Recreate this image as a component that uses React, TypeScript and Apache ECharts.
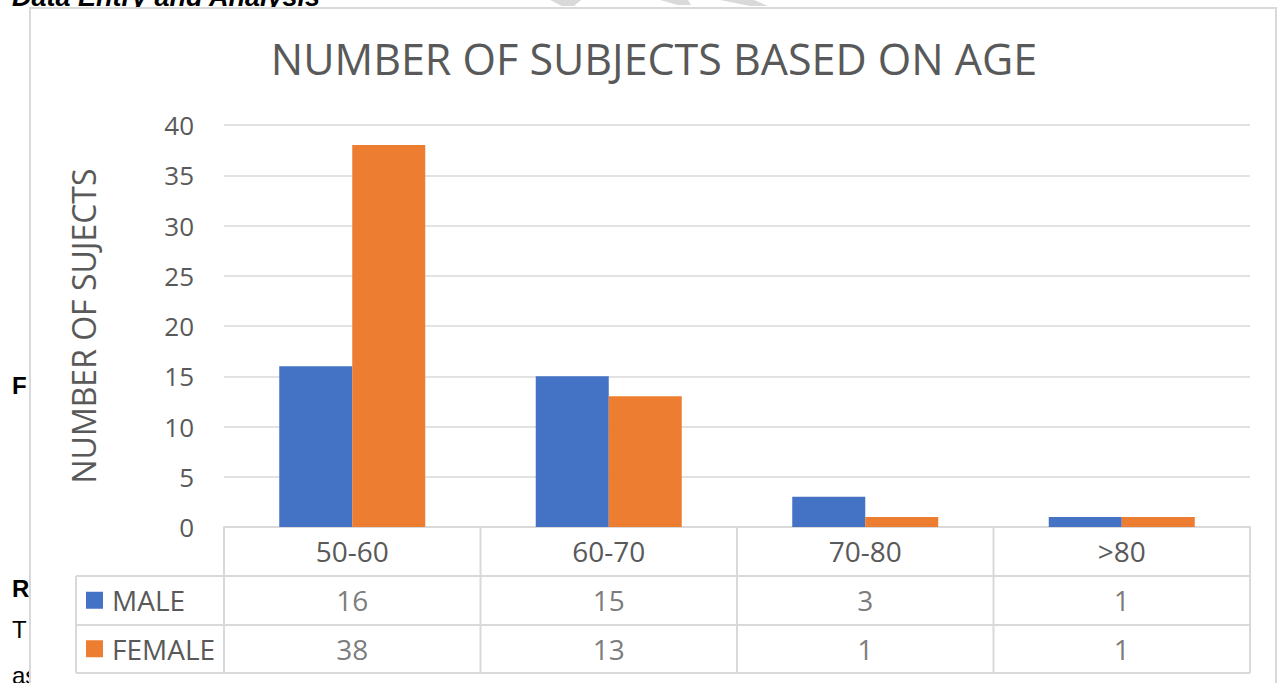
import React, { useEffect, useRef } from 'react';
import * as echarts from 'echarts';

// ---- data ----
const categories = ['50-60', '60-70', '70-80', '>80'];
const maleValues = [16, 15, 3, 1];
const femaleValues = [38, 13, 1, 1];
const seriesNames = ['MALE', 'FEMALE'];
const seriesColors = ['#4472c4', '#ed7d31'];
const yMin = 0;
const yMax = 40;
const yStep = 5;
const titleText = 'NUMBER OF SUBJECTS BASED ON AGE';
const yAxisName = 'NUMBER OF SUJECTS';

// ---- layout ----
const W = 1278;
const H = 683;
const PLOT_LEFT = 224;
const PLOT_RIGHT = 1250;
const PLOT_TOP = 125;
const PLOT_BOTTOM = 527;
const ROW_H = 49;
const TABLE_BOTTOM = 673;
const LEGEND_LEFT = 76;
const LINE = '#d9d9d9';
const TXT = '#595959';
const FONT = '"Open Sans", "Noto Sans", sans-serif';

export default function App() {
  const ref = useRef<HTMLDivElement>(null);

  useEffect(() => {
    if (!ref.current) return;
    const chart = echarts.init(ref.current, undefined, { renderer: 'svg' });

    const colW = (PLOT_RIGHT - PLOT_LEFT) / categories.length;
    const tableLines: any[] = [];
    const hl = (y: number, x1: number, x2: number) =>
      tableLines.push({ type: 'line', z: 50, silent: true, shape: { x1, y1: y, x2, y2: y }, style: { stroke: LINE, lineWidth: 2 } });
    const vl = (x: number, y1: number, y2: number) =>
      tableLines.push({ type: 'line', z: 50, silent: true, shape: { x1: x, y1, x2: x, y2 }, style: { stroke: LINE, lineWidth: 2 } });
    hl(PLOT_BOTTOM + ROW_H, LEGEND_LEFT, PLOT_RIGHT);
    hl(PLOT_BOTTOM + 2 * ROW_H, LEGEND_LEFT, PLOT_RIGHT);
    hl(TABLE_BOTTOM, LEGEND_LEFT, PLOT_RIGHT);
    vl(LEGEND_LEFT, PLOT_BOTTOM + ROW_H, TABLE_BOTTOM);
    for (let i = 0; i <= categories.length; i++) vl(PLOT_LEFT + i * colW, PLOT_BOTTOM, TABLE_BOTTOM);

    const docText = (text: string, x: number, y: number, bold: boolean, italic = false, size = 24) => ({
      type: 'text',
      z: -20,
      silent: true,
      x,
      y,
      style: {
        text,
        fill: '#000',
        font: `${italic ? 'italic ' : ''}${bold ? 'bold ' : ''}${size}px "Liberation Sans", Arial, sans-serif`,
        verticalAlign: 'middle',
        align: 'left',
      },
    });

    const option: any = {
      animation: false,
      backgroundColor: '#ffffff',
      title: {
        text: titleText,
        left: 654,
        top: 37,
        textAlign: 'center',
        padding: 0,
        textStyle: { fontFamily: FONT, fontSize: 43, fontWeight: 'normal', color: TXT, lineHeight: 43 },
      },
      graphic: [
        docText('Data Entry and Analysis', 12, -3, true, true, 27),
        docText('F', 12, 385, true),
        docText('R', 12, 588, true),
        docText('T', 12, 629, false),
        docText('as', 12, 675, false),
        {
          type: 'rect',
          z: -10,
          silent: true,
          shape: { x: 30, y: 8, width: 1246, height: 720 },
          style: { fill: '#ffffff', stroke: LINE, lineWidth: 2 },
        },
        { type: 'polygon', z: -5, silent: true, shape: { points: [[550, 0], [581, 0], [574, 6], [562, 6]] }, style: { fill: '#d9d9d9' } },
        { type: 'polygon', z: -5, silent: true, shape: { points: [[660, 0], [688, 0], [691, 5], [678, 5]] }, style: { fill: '#d9d9d9' } },
        { type: 'polygon', z: -5, silent: true, shape: { points: [[720, 0], [754, 0], [768, 6], [750, 6]] }, style: { fill: '#d9d9d9' } },
        ...tableLines,
      ],
      grid: [
        { left: PLOT_LEFT, top: PLOT_TOP, width: PLOT_RIGHT - PLOT_LEFT, height: PLOT_BOTTOM - PLOT_TOP, containLabel: false },
        { left: PLOT_LEFT, top: PLOT_BOTTOM + ROW_H, width: PLOT_RIGHT - PLOT_LEFT, height: TABLE_BOTTOM - PLOT_BOTTOM - ROW_H, containLabel: false },
      ],
      xAxis: [
        {
          type: 'category',
          gridIndex: 0,
          data: categories,
          axisLine: { show: true, lineStyle: { color: LINE, width: 2 } },
          axisTick: { show: false },
          axisLabel: { color: TXT, fontFamily: FONT, fontSize: 28, margin: 24, verticalAlign: 'middle', interval: 0 },
          splitLine: { show: false },
        },
        {
          type: 'category',
          gridIndex: 1,
          data: categories,
          axisLine: { show: false },
          axisTick: { show: false },
          axisLabel: { show: false },
          splitLine: { show: false },
        },
      ],
      yAxis: [
        {
          type: 'value',
          gridIndex: 0,
          min: yMin,
          max: yMax,
          interval: yStep,
          name: yAxisName,
          nameLocation: 'middle',
          nameRotate: 90,
          nameGap: 125,
          nameTextStyle: { color: TXT, fontFamily: FONT, fontSize: 32 },
          axisLine: { show: false },
          axisTick: { show: false },
          axisLabel: { color: TXT, fontFamily: FONT, fontSize: 26, margin: 30 },
          splitLine: { show: true, lineStyle: { color: LINE, width: 1.5 } },
        },
        {
          type: 'category',
          gridIndex: 1,
          data: seriesNames,
          inverse: true,
          axisLine: { show: false },
          axisTick: { show: false },
          splitLine: { show: false },
          axisLabel: {
            align: 'left',
            margin: PLOT_LEFT - 86,
            color: TXT,
            fontFamily: FONT,
            fontSize: 28,
            formatter: (v: string) => `{${v === seriesNames[0] ? 'm' : 'f'}|}{t|${v}}`,
            rich: {
              m: { width: 17, height: 17, backgroundColor: seriesColors[0] },
              f: { width: 17, height: 17, backgroundColor: seriesColors[1] },
              t: { color: TXT, fontFamily: FONT, fontSize: 28, padding: [0, 0, 0, 9] },
            },
          },
        },
      ],
      series: [
        {
          name: seriesNames[0],
          type: 'bar',
          xAxisIndex: 0,
          yAxisIndex: 0,
          data: maleValues,
          barWidth: 73,
          barGap: '0%',
          itemStyle: { color: seriesColors[0] },
        },
        {
          name: seriesNames[1],
          type: 'bar',
          xAxisIndex: 0,
          yAxisIndex: 0,
          data: femaleValues,
          barWidth: 73,
          barGap: '0%',
          itemStyle: { color: seriesColors[1] },
        },
        {
          name: 'table',
          type: 'scatter',
          xAxisIndex: 1,
          yAxisIndex: 1,
          symbolSize: 1,
          silent: true,
          itemStyle: { color: 'rgba(0,0,0,0)' },
          label: {
            show: true,
            position: 'inside',
            color: TXT,
            fontFamily: FONT,
            fontSize: 28,
            formatter: (p: any) => String(p.value[2]),
          },
          data: [
            ...categories.map((c, i) => [c, seriesNames[0], maleValues[i]]),
            ...categories.map((c, i) => [c, seriesNames[1], femaleValues[i]]),
          ],
        },
      ],
    };

    chart.setOption(option);
    return () => chart.dispose();
  }, []);

  return <div ref={ref} style={{ position: 'fixed', left: 0, top: 0, width: W, height: H }} />;
}
